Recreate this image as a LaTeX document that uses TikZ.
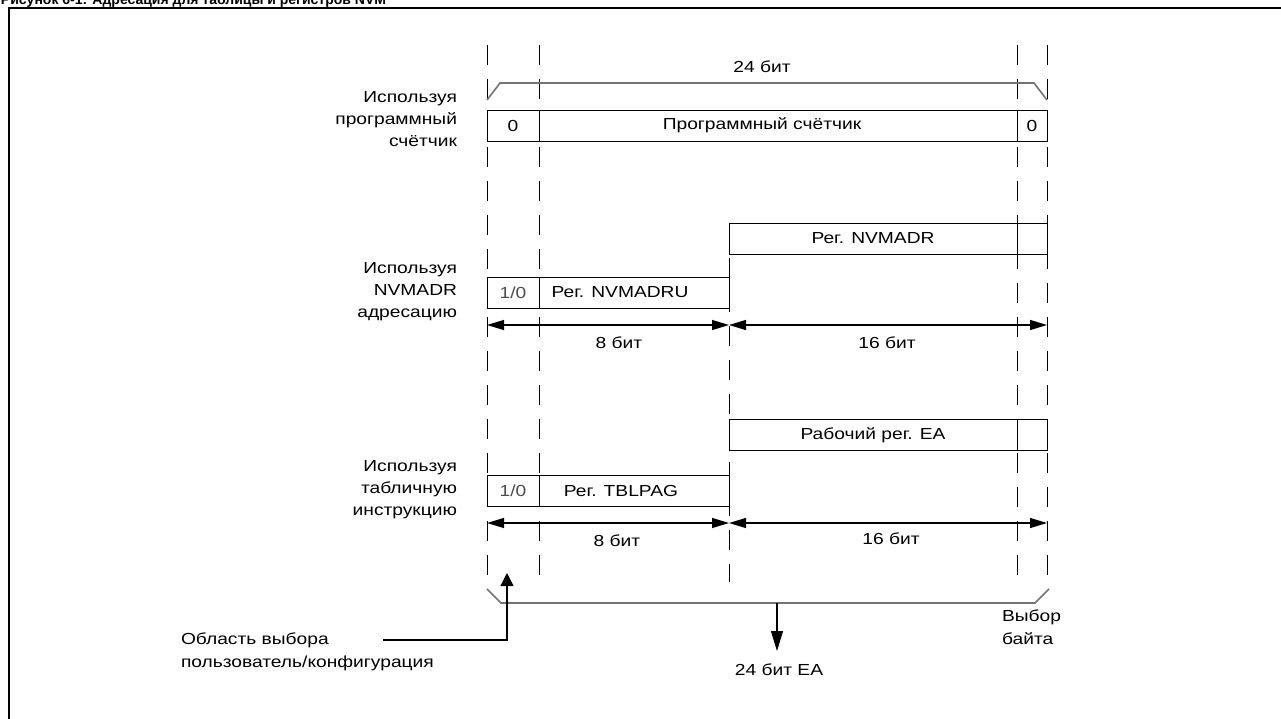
\documentclass[tikz,border=0pt]{standalone}
\usepackage{fontspec}
\setmainfont{Liberation Sans}[FakeStretch=1.2]
\newfontfamily\titlefont{Liberation Sans}
\usetikzlibrary{arrows.meta}
\begin{document}
\begin{tikzpicture}[x=1pt,y=-1pt,
  every node/.style={inner sep=0pt, outer sep=0pt},
  txt/.style={font=\fontsize{16}{23}\selectfont},
  side/.style={txt, anchor=east, align=right, font=\fontsize{16}{22}\selectfont},
  cell/.style={draw, line width=1pt, minimum height=31pt, txt},
  guide/.style={line width=1pt, dash pattern=on 20pt off 14pt},
  dim/.style={line width=1.2pt, {Triangle[length=17pt,width=10pt]}-{Triangle[length=17pt,width=10pt]}},
  brace/.style={draw=black!55, line width=1.6pt},
  ptr/.style={line width=1.2pt, -{Triangle[length=20pt,width=12pt]}}]
\useasboundingbox (0,0) rectangle (1281,718);
% frame and title
\draw[line width=2pt] (9,719) -- (9,8) -- (1282,8);
\node[anchor=base west, font=\titlefont\bfseries\fontsize{14}{16}\selectfont] (title) at (1,4) {Рисунок 6-1: Адресация для таблицы и регистров NVM};

% guide lines
\draw[guide] (487,45) -- (487,582);
\draw[guide] (539,45) -- (539,582);
\draw[guide] (1017,45) -- (1017,582);
\draw[guide] (1047,45) -- (1047,582);
\draw[guide] (729,224) -- (729,582);

% row 1
\node[txt] (w24) at (762,67) {24 бит};
\draw[brace] (487,100) -- (500,83) -- (1034,83) -- (1047,100);
\node[cell, minimum width=52pt] (pc0) at (513,125.5) {0};
\node[cell, minimum width=478pt] (pc) at (778,125.5) {};
\node[txt] (pct) at (762,125.5) {Программный счётчик};
\node[cell, minimum width=30pt] (pc1) at (1032,125.5) {0};
\node[side] (lab1) at (457,119) {Используя\\программный\\счётчик};

% row 2
\node[cell, minimum width=288pt] (nv) at (873,238.5) {Рег. NVMADR};
\node[cell, minimum width=30pt] (nvb) at (1032,238.5) {};
\node[cell, minimum width=52pt, text=black!70] (nvu0) at (513,292.5) {1/0};
\node[cell, minimum width=190pt] (nvu) at (634,292.5) {};
\node[txt] (nvut) at (620,292.5) {Рег. NVMADRU};
\node[side] (lab2) at (457,292) {Используя\\NVMADR\\адресацию};
\coordinate (a2l) at (487,325);
\coordinate (a2m) at (729,325);
\coordinate (a2r) at (1047,325);
\draw[dim] (a2l) -- (a2m);
\draw[dim] (a2m) -- (a2r);
\node[txt] (b8a) at (619,343) {8 бит};
\node[txt] (b16a) at (887,343) {16 бит};

% row 3
\node[cell, minimum width=288pt] (ea) at (873,435) {Рабочий рег. EA};
\node[cell, minimum width=30pt] (eab) at (1032,435) {};
\node[cell, minimum width=52pt, text=black!70] (tb0) at (513,490.5) {1/0};
\node[cell, minimum width=190pt] (tb) at (634,490.5) {};
\node[txt] (tbt) at (621,490.5) {Рег. TBLPAG};
\node[side] (lab3) at (457,490) {Используя\\табличную\\инструкцию};
\coordinate (a3l) at (487,523);
\coordinate (a3m) at (729,523);
\coordinate (a3r) at (1047,523);
\draw[dim] (a3l) -- (a3m);
\draw[dim] (a3m) -- (a3r);
\node[txt] (b8b) at (617,541) {8 бит};
\node[txt] (b16b) at (891,539) {16 бит};

% bottom
\draw[brace] (487,589) -- (501,603) -- (1035,603) -- (1049,589);
\coordinate (dtop) at (777,603);
\node[txt] (ea24) at (779,670) {24 бит EA};
\draw[ptr] (dtop) -- (777,651);
\node[txt, anchor=west, align=left] (bsel) at (1002,627) {Выбор\\байта};
\node[txt, anchor=west, align=left] (cfg) at (181,652) {Область выбора\\пользователь/конфигурация};
\coordinate (cl) at (383,640);
\coordinate (cc) at (507,640);
\coordinate (ct) at (507,573);
\draw[ptr, -{Triangle[length=13pt,width=13pt]}] (cl) -- (cc) -- (ct);
\end{tikzpicture}
\end{document}
